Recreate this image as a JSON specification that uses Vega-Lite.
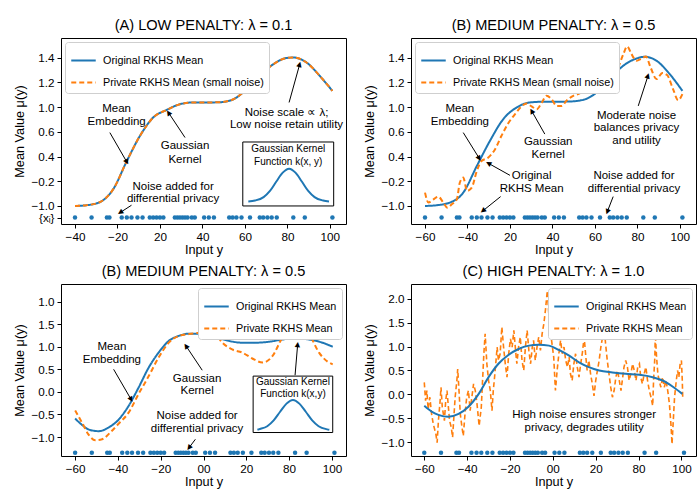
{
"$schema": "https://vega.github.io/schema/vega-lite/v6.json",
"padding": {"left": 13, "top": 17, "right": 2, "bottom": 2},
"background": "white",
"bounds": "flush",
"columns": 2,
"spacing": {"row": 60, "column": 65},
"resolve": {"scale": {"color": "independent", "strokeDash": "independent"}, "legend": {"color": "independent", "strokeDash": "independent"}},
"config": {
 "font": "Liberation Sans",
 "view": {"stroke": "black", "strokeWidth": 1},
 "axis": {"grid": false, "domain": false, "tickColor": "black", "tickSize": 4, "labelColor": "black", "labelFontSize": 11.7, "labelFont": "Liberation Sans", "titleFont": "Liberation Sans", "titleFontSize": 12.7, "titleFontWeight": "normal", "titleColor": "black", "labelPadding": 3, "labelFlush": false, "labelOverlap": false},
 "axisX": {"titlePadding": 1},
 "axisY": {"titlePadding": 4},
 "title": {"fontSize": 14.6, "fontWeight": "normal", "offset": 5, "color": "black", "font": "Liberation Sans"},
 "legend": {"fillColor": "white", "strokeColor": "#cfcfcf", "cornerRadius": 3, "padding": 5, "symbolType": "stroke", "symbolSize": 600, "symbolStrokeWidth": 2, "labelFontSize": 10.8, "labelFont": "Liberation Sans", "labelColor": "black", "rowPadding": 3, "labelOffset": 6, "offset": 4, "labelLimit": 300},
 "text": {"font": "Liberation Sans", "fontSize": 11.5, "color": "black"}
},
"datasets": {
 "dots_top": [{"x":0,"y":-0.47},{"x":0.39,"y":-0.47},{"x":0.75,"y":-0.47},{"x":0.81,"y":-0.47},{"x":1.10,"y":-0.47},{"x":1.22,"y":-0.47},{"x":1.33,"y":-0.47},{"x":1.47,"y":-0.47},{"x":1.59,"y":-0.47},{"x":1.76,"y":-0.47},{"x":1.84,"y":-0.47},{"x":1.92,"y":-0.47},{"x":2.0,"y":-0.47},{"x":2.08,"y":-0.47},{"x":2.35,"y":-0.47},{"x":2.41,"y":-0.47},{"x":2.47,"y":-0.47},{"x":2.53,"y":-0.47},{"x":2.59,"y":-0.47},{"x":2.65,"y":-0.47},{"x":2.75,"y":-0.47},{"x":2.82,"y":-0.47},{"x":3.04,"y":-0.47},{"x":3.15,"y":-0.47},{"x":3.27,"y":-0.47},{"x":3.63,"y":-0.47},{"x":3.71,"y":-0.47},{"x":3.8,"y":-0.47},{"x":3.92,"y":-0.47},{"x":4.12,"y":-0.47},{"x":4.35,"y":-0.47},{"x":4.43,"y":-0.47},{"x":4.53,"y":-0.47},{"x":4.63,"y":-0.47},{"x":4.75,"y":-0.47},{"x":5.14,"y":-0.47},{"x":5.41,"y":-0.47},{"x":6.06,"y":-0.47}],
 "dots_L": [{"x":0,"y":-1.35},{"x":0.39,"y":-1.35},{"x":0.75,"y":-1.35},{"x":0.81,"y":-1.35},{"x":1.10,"y":-1.35},{"x":1.22,"y":-1.35},{"x":1.33,"y":-1.35},{"x":1.47,"y":-1.35},{"x":1.59,"y":-1.35},{"x":1.76,"y":-1.35},{"x":1.84,"y":-1.35},{"x":1.92,"y":-1.35},{"x":2.0,"y":-1.35},{"x":2.08,"y":-1.35},{"x":2.35,"y":-1.35},{"x":2.41,"y":-1.35},{"x":2.47,"y":-1.35},{"x":2.53,"y":-1.35},{"x":2.59,"y":-1.35},{"x":2.65,"y":-1.35},{"x":2.75,"y":-1.35},{"x":2.82,"y":-1.35},{"x":3.04,"y":-1.35},{"x":3.15,"y":-1.35},{"x":3.27,"y":-1.35},{"x":3.63,"y":-1.35},{"x":3.71,"y":-1.35},{"x":3.8,"y":-1.35},{"x":3.92,"y":-1.35},{"x":4.12,"y":-1.35},{"x":4.35,"y":-1.35},{"x":4.43,"y":-1.35},{"x":4.53,"y":-1.35},{"x":4.63,"y":-1.35},{"x":4.75,"y":-1.35},{"x":5.14,"y":-1.35},{"x":5.41,"y":-1.35},{"x":6.06,"y":-1.35}],
 "dots_C": [{"x":0,"y":-1.22},{"x":0.39,"y":-1.22},{"x":0.75,"y":-1.22},{"x":0.81,"y":-1.22},{"x":1.10,"y":-1.22},{"x":1.22,"y":-1.22},{"x":1.33,"y":-1.22},{"x":1.47,"y":-1.22},{"x":1.59,"y":-1.22},{"x":1.76,"y":-1.22},{"x":1.84,"y":-1.22},{"x":1.92,"y":-1.22},{"x":2.0,"y":-1.22},{"x":2.08,"y":-1.22},{"x":2.35,"y":-1.22},{"x":2.41,"y":-1.22},{"x":2.47,"y":-1.22},{"x":2.53,"y":-1.22},{"x":2.59,"y":-1.22},{"x":2.65,"y":-1.22},{"x":2.75,"y":-1.22},{"x":2.82,"y":-1.22},{"x":3.04,"y":-1.22},{"x":3.15,"y":-1.22},{"x":3.27,"y":-1.22},{"x":3.63,"y":-1.22},{"x":3.71,"y":-1.22},{"x":3.8,"y":-1.22},{"x":3.92,"y":-1.22},{"x":4.12,"y":-1.22},{"x":4.35,"y":-1.22},{"x":4.43,"y":-1.22},{"x":4.53,"y":-1.22},{"x":4.63,"y":-1.22},{"x":4.75,"y":-1.22},{"x":5.14,"y":-1.22},{"x":5.41,"y":-1.22},{"x":6.06,"y":-1.22}],
 "A_curves": [
  {"series":"Original RKHS Mean","x":0,"y":0},{"series":"Original RKHS Mean","x":0.27,"y":0.03},{"series":"Original RKHS Mean","x":0.59,"y":0.16},{"series":"Original RKHS Mean","x":0.9,"y":0.68},{"series":"Original RKHS Mean","x":1.22,"y":1.82},{"series":"Original RKHS Mean","x":1.53,"y":2.84},{"series":"Original RKHS Mean","x":1.84,"y":3.58},{"series":"Original RKHS Mean","x":2.16,"y":3.89},{"series":"Original RKHS Mean","x":2.47,"y":4.12},{"series":"Original RKHS Mean","x":2.78,"y":4.19},{"series":"Original RKHS Mean","x":3.1,"y":4.19},{"series":"Original RKHS Mean","x":3.41,"y":4.2},{"series":"Original RKHS Mean","x":3.73,"y":4.32},{"series":"Original RKHS Mean","x":4.04,"y":4.73},{"series":"Original RKHS Mean","x":4.35,"y":5.27},{"series":"Original RKHS Mean","x":4.67,"y":5.74},{"series":"Original RKHS Mean","x":4.98,"y":5.99},{"series":"Original RKHS Mean","x":5.14,"y":6.01},{"series":"Original RKHS Mean","x":5.45,"y":5.81},{"series":"Original RKHS Mean","x":5.76,"y":5.27},{"series":"Original RKHS Mean","x":6.06,"y":4.66},
  {"series":"Private RKHS Mean (small noise)","x":0,"y":0},{"series":"Private RKHS Mean (small noise)","x":0.27,"y":0.03},{"series":"Private RKHS Mean (small noise)","x":0.59,"y":0.16},{"series":"Private RKHS Mean (small noise)","x":0.9,"y":0.68},{"series":"Private RKHS Mean (small noise)","x":1.22,"y":1.82},{"series":"Private RKHS Mean (small noise)","x":1.53,"y":2.84},{"series":"Private RKHS Mean (small noise)","x":1.84,"y":3.58},{"series":"Private RKHS Mean (small noise)","x":2.16,"y":3.89},{"series":"Private RKHS Mean (small noise)","x":2.47,"y":4.12},{"series":"Private RKHS Mean (small noise)","x":2.78,"y":4.19},{"series":"Private RKHS Mean (small noise)","x":3.1,"y":4.19},{"series":"Private RKHS Mean (small noise)","x":3.41,"y":4.2},{"series":"Private RKHS Mean (small noise)","x":3.73,"y":4.32},{"series":"Private RKHS Mean (small noise)","x":4.04,"y":4.73},{"series":"Private RKHS Mean (small noise)","x":4.35,"y":5.27},{"series":"Private RKHS Mean (small noise)","x":4.67,"y":5.74},{"series":"Private RKHS Mean (small noise)","x":4.98,"y":5.99},{"series":"Private RKHS Mean (small noise)","x":5.14,"y":6.01},{"series":"Private RKHS Mean (small noise)","x":5.45,"y":5.81},{"series":"Private RKHS Mean (small noise)","x":5.76,"y":5.27},{"series":"Private RKHS Mean (small noise)","x":6.06,"y":4.66}
 ],
 "A_inset": [{"x":3.95,"x2":6.09,"y":0,"y2":2.59}],
 "A_bell": [{"x":4.08,"y":0.18},{"x":4.24,"y":0.22},{"x":4.44,"y":0.36},{"x":4.59,"y":0.61},{"x":4.74,"y":0.99},{"x":4.89,"y":1.35},{"x":5.04,"y":1.51},{"x":5.19,"y":1.35},{"x":5.34,"y":0.99},{"x":5.49,"y":0.61},{"x":5.64,"y":0.36},{"x":5.84,"y":0.22},{"x":5.98,"y":0.18}],
 "A_arrows": [
  {"x0":0.82,"y0":2.97,"x":1.22,"y":1.78,"angle":150},
  {"x0":2.59,"y0":2.77,"x":2.2,"y":3.78,"angle":-34},
  {"x0":5.04,"y0":4.19,"x":5.29,"y":5.74,"angle":15},
  {"x0":1.33,"y0":0.03,"x":1.06,"y":-0.27,"angle":-123}
 ],
 "A_text": [
  {"x":0.98,"y":3.92,"text":"Mean"},{"x":0.98,"y":3.38,"text":"Embedding"},
  {"x":2.59,"y":2.43,"text":"Gaussian"},{"x":2.59,"y":1.86,"text":"Kernel"},
  {"x":4.98,"y":3.78,"text":"Noise scale ∝ λ;"},{"x":4.98,"y":3.27,"text":"Low noise retain utility"},
  {"x":2.31,"y":0.76,"text":"Noise added for"},{"x":2.31,"y":0.27,"text":"differential privacy"}
 ],
 "A_inset_text": [{"x":5.02,"y":2.3,"text":"Gaussian Kernel"},{"x":5.02,"y":1.76,"text":"Function k(x, y)"}],
 "B_curves": [
  {"series":"Original RKHS Mean","x":0,"y":0},{"series":"Original RKHS Mean","x":0.27,"y":0.03},{"series":"Original RKHS Mean","x":0.59,"y":0.14},{"series":"Original RKHS Mean","x":0.9,"y":0.54},{"series":"Original RKHS Mean","x":1.22,"y":1.62},{"series":"Original RKHS Mean","x":1.53,"y":2.64},{"series":"Original RKHS Mean","x":1.84,"y":3.51},{"series":"Original RKHS Mean","x":2.16,"y":3.99},{"series":"Original RKHS Mean","x":2.47,"y":4.19},{"series":"Original RKHS Mean","x":2.78,"y":4.22},{"series":"Original RKHS Mean","x":3.1,"y":4.22},{"series":"Original RKHS Mean","x":3.41,"y":4.23},{"series":"Original RKHS Mean","x":3.73,"y":4.3},{"series":"Original RKHS Mean","x":4.04,"y":4.59},{"series":"Original RKHS Mean","x":4.35,"y":5.14},{"series":"Original RKHS Mean","x":4.67,"y":5.68},{"series":"Original RKHS Mean","x":4.98,"y":5.97},{"series":"Original RKHS Mean","x":5.18,"y":6.04},{"series":"Original RKHS Mean","x":5.45,"y":5.88},{"series":"Original RKHS Mean","x":5.76,"y":5.34},{"series":"Original RKHS Mean","x":6.06,"y":4.66},
  {"series":"Private RKHS Mean (small noise)","x":0,"y":0.54},{"series":"Private RKHS Mean (small noise)","x":0.08,"y":0.14},{"series":"Private RKHS Mean (small noise)","x":0.2,"y":0.27},{"series":"Private RKHS Mean (small noise)","x":0.31,"y":0.38},{"series":"Private RKHS Mean (small noise)","x":0.43,"y":0.14},{"series":"Private RKHS Mean (small noise)","x":0.53,"y":-0.07},{"series":"Private RKHS Mean (small noise)","x":0.63,"y":0.07},{"series":"Private RKHS Mean (small noise)","x":0.75,"y":0.27},{"series":"Private RKHS Mean (small noise)","x":0.82,"y":0.95},{"series":"Private RKHS Mean (small noise)","x":0.9,"y":1.15},{"series":"Private RKHS Mean (small noise)","x":0.99,"y":0.61},{"series":"Private RKHS Mean (small noise)","x":1.1,"y":0.74},{"series":"Private RKHS Mean (small noise)","x":1.22,"y":1.42},{"series":"Private RKHS Mean (small noise)","x":1.33,"y":1.82},{"series":"Private RKHS Mean (small noise)","x":1.49,"y":1.96},{"series":"Private RKHS Mean (small noise)","x":1.65,"y":2.3},{"series":"Private RKHS Mean (small noise)","x":1.8,"y":2.84},{"series":"Private RKHS Mean (small noise)","x":1.96,"y":3.35},{"series":"Private RKHS Mean (small noise)","x":2.12,"y":3.72},{"series":"Private RKHS Mean (small noise)","x":2.27,"y":4.03},{"series":"Private RKHS Mean (small noise)","x":2.39,"y":4.15},{"series":"Private RKHS Mean (small noise)","x":2.51,"y":4.03},{"series":"Private RKHS Mean (small noise)","x":2.63,"y":3.92},{"series":"Private RKHS Mean (small noise)","x":2.75,"y":4.19},{"series":"Private RKHS Mean (small noise)","x":2.86,"y":4.46},{"series":"Private RKHS Mean (small noise)","x":2.98,"y":4.32},{"series":"Private RKHS Mean (small noise)","x":3.1,"y":4.05},{"series":"Private RKHS Mean (small noise)","x":3.22,"y":4.05},{"series":"Private RKHS Mean (small noise)","x":3.33,"y":4.26},{"series":"Private RKHS Mean (small noise)","x":3.49,"y":4.46},{"series":"Private RKHS Mean (small noise)","x":3.65,"y":4.57},{"series":"Private RKHS Mean (small noise)","x":3.8,"y":4.8},{"series":"Private RKHS Mean (small noise)","x":3.95,"y":5.07},{"series":"Private RKHS Mean (small noise)","x":4.08,"y":5.0},{"series":"Private RKHS Mean (small noise)","x":4.2,"y":4.93},{"series":"Private RKHS Mean (small noise)","x":4.31,"y":5.0},{"series":"Private RKHS Mean (small noise)","x":4.43,"y":5.2},{"series":"Private RKHS Mean (small noise)","x":4.55,"y":5.61},{"series":"Private RKHS Mean (small noise)","x":4.67,"y":6.15},{"series":"Private RKHS Mean (small noise)","x":4.76,"y":6.46},{"series":"Private RKHS Mean (small noise)","x":4.86,"y":6.15},{"series":"Private RKHS Mean (small noise)","x":4.98,"y":5.88},{"series":"Private RKHS Mean (small noise)","x":5.1,"y":5.97},{"series":"Private RKHS Mean (small noise)","x":5.2,"y":6.05},{"series":"Private RKHS Mean (small noise)","x":5.31,"y":5.61},{"series":"Private RKHS Mean (small noise)","x":5.45,"y":5.14},{"series":"Private RKHS Mean (small noise)","x":5.59,"y":5.38},{"series":"Private RKHS Mean (small noise)","x":5.7,"y":5.3},{"series":"Private RKHS Mean (small noise)","x":5.84,"y":4.73},{"series":"Private RKHS Mean (small noise)","x":5.96,"y":4.28},{"series":"Private RKHS Mean (small noise)","x":6.06,"y":4.53}
 ],
 "B_arrows": [
  {"x0":0.9,"y0":2.97,"x":1.28,"y":1.92,"angle":148},
  {"x0":2.0,"y0":1.24,"x":1.49,"y":1.73,"angle":-61},
  {"x0":1.78,"y0":0.38,"x":1.36,"y":-0.2,"angle":-129},
  {"x0":2.82,"y0":2.91,"x":2.51,"y":3.85,"angle":-30},
  {"x0":5.02,"y0":4.05,"x":5.25,"y":5.27,"angle":18},
  {"x0":4.43,"y0":0.38,"x":4.29,"y":-0.24,"angle":-159}
 ],
 "B_text": [
  {"x":0.82,"y":3.92,"text":"Mean"},{"x":0.82,"y":3.41,"text":"Embedding"},
  {"x":2.51,"y":1.22,"text":"Original"},{"x":2.51,"y":0.7,"text":"RKHS Mean"},
  {"x":2.9,"y":2.57,"text":"Gaussian"},{"x":2.9,"y":2.07,"text":"Kernel"},
  {"x":4.98,"y":3.65,"text":"Moderate noise"},{"x":4.98,"y":3.14,"text":"balances privacy"},{"x":4.98,"y":2.62,"text":"and utility"},
  {"x":4.92,"y":1.22,"text":"Noise added for"},{"x":4.92,"y":0.7,"text":"differential privacy"}
 ],
 "L_curves": [
  {"series":"Original RKHS Mean","x":0,"y":-0.59},{"series":"Original RKHS Mean","x":0.16,"y":-0.73},{"series":"Original RKHS Mean","x":0.31,"y":-0.83},{"series":"Original RKHS Mean","x":0.55,"y":-0.87},{"series":"Original RKHS Mean","x":0.78,"y":-0.79},{"series":"Original RKHS Mean","x":1.02,"y":-0.61},{"series":"Original RKHS Mean","x":1.25,"y":-0.31},{"series":"Original RKHS Mean","x":1.48,"y":0.09},{"series":"Original RKHS Mean","x":1.72,"y":0.54},{"series":"Original RKHS Mean","x":1.95,"y":0.87},{"series":"Original RKHS Mean","x":2.19,"y":1.13},{"series":"Original RKHS Mean","x":2.42,"y":1.24},{"series":"Original RKHS Mean","x":2.66,"y":1.29},{"series":"Original RKHS Mean","x":2.89,"y":1.29},{"series":"Original RKHS Mean","x":3.13,"y":1.24},{"series":"Original RKHS Mean","x":3.36,"y":1.19},{"series":"Original RKHS Mean","x":3.59,"y":1.13},{"series":"Original RKHS Mean","x":3.91,"y":1.09},{"series":"Original RKHS Mean","x":4.22,"y":1.09},{"series":"Original RKHS Mean","x":4.53,"y":1.11},{"series":"Original RKHS Mean","x":4.84,"y":1.16},{"series":"Original RKHS Mean","x":5.16,"y":1.19},{"series":"Original RKHS Mean","x":5.47,"y":1.16},{"series":"Original RKHS Mean","x":5.78,"y":1.09},{"series":"Original RKHS Mean","x":6.02,"y":1.0},
  {"series":"Private RKHS Mean","x":0,"y":-0.41},{"series":"Private RKHS Mean","x":0.16,"y":-0.68},{"series":"Private RKHS Mean","x":0.31,"y":-0.94},{"series":"Private RKHS Mean","x":0.47,"y":-1.07},{"series":"Private RKHS Mean","x":0.63,"y":-1.05},{"series":"Private RKHS Mean","x":0.82,"y":-0.9},{"series":"Private RKHS Mean","x":1.02,"y":-0.7},{"series":"Private RKHS Mean","x":1.25,"y":-0.46},{"series":"Private RKHS Mean","x":1.48,"y":-0.05},{"series":"Private RKHS Mean","x":1.72,"y":0.35},{"series":"Private RKHS Mean","x":1.95,"y":0.76},{"series":"Private RKHS Mean","x":2.19,"y":1.09},{"series":"Private RKHS Mean","x":2.42,"y":1.24},{"series":"Private RKHS Mean","x":2.66,"y":1.28},{"series":"Private RKHS Mean","x":2.89,"y":1.31},{"series":"Private RKHS Mean","x":3.13,"y":1.35},{"series":"Private RKHS Mean","x":3.28,"y":1.28},{"series":"Private RKHS Mean","x":3.44,"y":1.09},{"series":"Private RKHS Mean","x":3.67,"y":0.94},{"series":"Private RKHS Mean","x":3.91,"y":0.87},{"series":"Private RKHS Mean","x":4.14,"y":0.74},{"series":"Private RKHS Mean","x":4.38,"y":0.65},{"series":"Private RKHS Mean","x":4.61,"y":0.79},{"series":"Private RKHS Mean","x":4.84,"y":1.2},{"series":"Private RKHS Mean","x":5.08,"y":1.48},{"series":"Private RKHS Mean","x":5.2,"y":1.52},{"series":"Private RKHS Mean","x":5.3,"y":1.47},{"series":"Private RKHS Mean","x":5.47,"y":1.28},{"series":"Private RKHS Mean","x":5.7,"y":0.87},{"series":"Private RKHS Mean","x":5.9,"y":0.67},{"series":"Private RKHS Mean","x":6.02,"y":0.61}
 ],
 "L_inset": [{"x":4.16,"x2":6.02,"y":-0.9,"y2":0.35}],
 "L_bell": [{"x":4.26,"y":-0.84},{"x":4.29,"y":-0.83},{"x":4.49,"y":-0.76},{"x":4.64,"y":-0.63},{"x":4.79,"y":-0.44},{"x":4.94,"y":-0.26},{"x":5.09,"y":-0.18},{"x":5.24,"y":-0.26},{"x":5.39,"y":-0.44},{"x":5.54,"y":-0.63},{"x":5.69,"y":-0.76},{"x":5.89,"y":-0.83},{"x":5.94,"y":-0.84}],
 "L_arrows": [
  {"x0":0.9,"y0":0.5,"x":1.31,"y":-0.17,"angle":150},
  {"x0":2.97,"y0":0.48,"x":2.59,"y":1.02,"angle":-34},
  {"x0":2.81,"y0":-1.05,"x":2.66,"y":-1.24,"angle":-143},
  {"x0":5.14,"y0":0.37,"x":5.2,"y":1.05,"angle":5}
 ],
 "L_text": [
  {"x":0.86,"y":0.99,"text":"Mean"},{"x":0.86,"y":0.7,"text":"Embedding"},
  {"x":2.85,"y":0.28,"text":"Gaussian"},{"x":2.85,"y":0.02,"text":"Kernel"},
  {"x":2.85,"y":-0.53,"text":"Noise added for"},{"x":2.85,"y":-0.82,"text":"differential privacy"}
 ],
 "L_inset_text": [{"x":5.09,"y":0.22,"text":"Gaussian Kernel"},{"x":5.09,"y":-0.04,"text":"Function k(x,y)"}],
 "C_orig": [{"x":0,"y":-0.24},{"x":0.17,"y":-0.36},{"x":0.33,"y":-0.43},{"x":0.56,"y":-0.47},{"x":0.8,"y":-0.41},{"x":1.03,"y":-0.26},{"x":1.27,"y":0.01},{"x":1.5,"y":0.36},{"x":1.73,"y":0.64},{"x":1.97,"y":0.83},{"x":2.2,"y":0.95},{"x":2.44,"y":1.02},{"x":2.67,"y":1.04},{"x":2.91,"y":1.02},{"x":3.14,"y":0.93},{"x":3.38,"y":0.81},{"x":3.61,"y":0.67},{"x":3.84,"y":0.57},{"x":4.08,"y":0.5},{"x":4.39,"y":0.46},{"x":4.7,"y":0.43},{"x":5.02,"y":0.41},{"x":5.33,"y":0.36},{"x":5.56,"y":0.29},{"x":5.8,"y":0.16},{"x":6.02,"y":0.01}],
 "C_priv": [{"x":0,"y":0.25},{"x":0.03,"y":-0.13},{"x":0.06,"y":0.08},{"x":0.09,"y":-0.31},{"x":0.13,"y":-0.06},{"x":0.17,"y":-0.41},{"x":0.21,"y":-0.62},{"x":0.27,"y":-0.83},{"x":0.3,"y":-1.01},{"x":0.33,"y":-0.55},{"x":0.37,"y":-0.13},{"x":0.39,"y":0.15},{"x":0.42,"y":-0.27},{"x":0.47,"y":-0.55},{"x":0.5,"y":-0.13},{"x":0.53,"y":0.08},{"x":0.56,"y":-0.24},{"x":0.59,"y":-0.55},{"x":0.63,"y":-0.69},{"x":0.66,"y":-0.9},{"x":0.69,"y":-0.48},{"x":0.72,"y":-0.06},{"x":0.76,"y":0.29},{"x":0.78,"y":0.53},{"x":0.81,"y":0.08},{"x":0.84,"y":-0.41},{"x":0.88,"y":-0.69},{"x":0.91,"y":-0.87},{"x":0.95,"y":-0.41},{"x":0.99,"y":-0.06},{"x":1.03,"y":0.08},{"x":1.07,"y":-0.34},{"x":1.11,"y":-0.06},{"x":1.15,"y":0.22},{"x":1.19,"y":0.08},{"x":1.23,"y":-0.2},{"x":1.28,"y":-0.66},{"x":1.33,"y":-0.27},{"x":1.36,"y":0.29},{"x":1.39,"y":0.85},{"x":1.42,"y":1.27},{"x":1.46,"y":0.64},{"x":1.5,"y":0.29},{"x":1.54,"y":0.08},{"x":1.58,"y":-0.34},{"x":1.61,"y":0.08},{"x":1.64,"y":0.36},{"x":1.67,"y":0.67},{"x":1.7,"y":0.99},{"x":1.73,"y":0.71},{"x":1.77,"y":0.85},{"x":1.81,"y":1.41},{"x":1.85,"y":0.99},{"x":1.89,"y":0.64},{"x":1.93,"y":0.36},{"x":1.97,"y":0.85},{"x":2.01,"y":1.16},{"x":2.05,"y":0.99},{"x":2.09,"y":1.34},{"x":2.13,"y":0.92},{"x":2.16,"y":0.64},{"x":2.2,"y":0.99},{"x":2.24,"y":1.2},{"x":2.28,"y":0.71},{"x":2.32,"y":0.5},{"x":2.36,"y":0.99},{"x":2.4,"y":1.34},{"x":2.44,"y":0.92},{"x":2.48,"y":0.64},{"x":2.52,"y":0.99},{"x":2.55,"y":1.13},{"x":2.59,"y":0.71},{"x":2.63,"y":0.99},{"x":2.67,"y":1.2},{"x":2.71,"y":0.92},{"x":2.75,"y":1.27},{"x":2.79,"y":1.48},{"x":2.83,"y":1.79},{"x":2.87,"y":2.17},{"x":2.91,"y":1.62},{"x":2.95,"y":1.27},{"x":2.98,"y":1.06},{"x":3.02,"y":0.78},{"x":3.06,"y":0.08},{"x":3.1,"y":0.5},{"x":3.14,"y":0.85},{"x":3.18,"y":1.13},{"x":3.22,"y":0.85},{"x":3.26,"y":0.99},{"x":3.3,"y":0.71},{"x":3.34,"y":0.57},{"x":3.38,"y":0.78},{"x":3.41,"y":0.43},{"x":3.45,"y":0.29},{"x":3.49,"y":0.64},{"x":3.53,"y":0.85},{"x":3.57,"y":0.57},{"x":3.61,"y":0.36},{"x":3.65,"y":0.64},{"x":3.69,"y":0.88},{"x":3.73,"y":1.2},{"x":3.77,"y":0.78},{"x":3.8,"y":0.5},{"x":3.84,"y":0.71},{"x":3.88,"y":0.43},{"x":3.92,"y":0.22},{"x":3.96,"y":-0.03},{"x":4.0,"y":0.29},{"x":4.04,"y":0.5},{"x":4.08,"y":0.71},{"x":4.12,"y":0.99},{"x":4.16,"y":1.2},{"x":4.2,"y":1.37},{"x":4.23,"y":1.06},{"x":4.27,"y":0.71},{"x":4.31,"y":0.43},{"x":4.35,"y":0.15},{"x":4.39,"y":-0.06},{"x":4.43,"y":0.08},{"x":4.47,"y":0.36},{"x":4.51,"y":0.5},{"x":4.55,"y":0.29},{"x":4.59,"y":0.08},{"x":4.63,"y":0.36},{"x":4.66,"y":0.57},{"x":4.7,"y":0.71},{"x":4.74,"y":0.57},{"x":4.78,"y":0.29},{"x":4.82,"y":0.43},{"x":4.86,"y":0.64},{"x":4.9,"y":0.5},{"x":4.94,"y":0.29},{"x":4.98,"y":0.57},{"x":5.02,"y":0.64},{"x":5.05,"y":0.36},{"x":5.09,"y":0.22},{"x":5.13,"y":0.43},{"x":5.17,"y":0.57},{"x":5.21,"y":0.29},{"x":5.25,"y":0.08},{"x":5.29,"y":-0.06},{"x":5.33,"y":-0.24},{"x":5.35,"y":0.29},{"x":5.38,"y":0.78},{"x":5.39,"y":1.27},{"x":5.42,"y":0.78},{"x":5.45,"y":0.43},{"x":5.48,"y":0.29},{"x":5.52,"y":0.15},{"x":5.56,"y":0.36},{"x":5.6,"y":0.15},{"x":5.64,"y":0.29},{"x":5.68,"y":0.08},{"x":5.72,"y":-0.2},{"x":5.76,"y":-0.69},{"x":5.78,"y":-1.04},{"x":5.81,"y":-0.55},{"x":5.84,"y":-0.06},{"x":5.88,"y":0.29},{"x":5.91,"y":0.5},{"x":5.94,"y":0.36},{"x":5.97,"y":0.64},{"x":6.0,"y":0.71},{"x":6.02,"y":0.29},{"x":6.03,"y":-0.06}],
 "C_text": [{"x":3.73,"y":-0.44,"text":"High noise ensures stronger"},{"x":3.73,"y":-0.71,"text":"privacy, degrades utility"}]
},
"concat": [
 {
  "width": 285, "height": 186,
  "title": "(A) LOW PENALTY: λ = 0.1",
  "encoding": {
   "x": {"field": "x", "type": "quantitative", "scale": {"domain": [-0.33, 6.38], "nice": false, "zero": false}, "axis": {"title": "Input y", "values": [0,1,2,3,4,5,6], "labelExpr": "['−40','−20','20','40','60','80','100'][round(datum.value)]"}},
   "y": {"field": "y", "type": "quantitative", "scale": {"domain": [-0.73, 6.8], "nice": false, "zero": false}, "axis": {"title": "Mean Value μ(y)", "values": [-0.47,0,1,2,3,4,5,6], "labelExpr": "datum.value < -0.2 ? '{xᵢ}' : ['−1.0','−0.2','0.4','0.6','1.0','1.2','1.4'][round(datum.value)]"}}
  },
  "layer": [
   {"data": {"name": "A_curves"}, "mark": {"type": "line", "interpolate": "monotone", "strokeWidth": 2},
    "encoding": {"color": {"field": "series", "type": "nominal", "scale": {"domain": ["Original RKHS Mean", "Private RKHS Mean (small noise)"], "range": ["#1f77b4", "#ff7f0e"]}, "legend": {"title": null, "orient": "top-left"}},
     "strokeDash": {"field": "series", "type": "nominal", "scale": {"domain": ["Original RKHS Mean", "Private RKHS Mean (small noise)"], "range": [[1,0],[5,3]]}, "legend": {"title": null, "orient": "top-left"}}}},
   {"data": {"name": "dots_top"}, "mark": {"type": "circle", "size": 20, "color": "#1f77b4", "opacity": 1}},
   {"data": {"name": "A_inset"}, "mark": {"type": "rect", "fill": "white", "stroke": "black", "strokeWidth": 1}, "encoding": {"x2": {"field": "x2"}, "y2": {"field": "y2"}}},
   {"data": {"name": "A_bell"}, "mark": {"type": "line", "interpolate": "monotone", "color": "#1f77b4", "strokeWidth": 2}},
   {"data": {"name": "A_arrows"}, "mark": {"type": "rule", "color": "black", "strokeWidth": 1}, "encoding": {"x2": {"field": "x0"}, "y2": {"field": "y0"}}},
   {"data": {"name": "A_arrows"}, "mark": {"type": "text", "text": "▲", "fontSize": 7, "font": "DejaVu Sans"}, "encoding": {"angle": {"field": "angle", "type": "quantitative", "scale": null}}},
   {"data": {"name": "A_text"}, "mark": {"type": "text"}, "encoding": {"text": {"field": "text"}}},
   {"data": {"name": "A_inset_text"}, "mark": {"type": "text", "fontSize": 10}, "encoding": {"text": {"field": "text"}}}
  ]
 },
 {
  "width": 285, "height": 186,
  "title": "(B) MEDIUM PENALTY: λ = 0.5",
  "encoding": {
   "x": {"field": "x", "type": "quantitative", "scale": {"domain": [-0.33, 6.38], "nice": false, "zero": false}, "axis": {"title": "Input y", "values": [0,1,2,3,4,5,6], "labelExpr": "['−60','−40','20','40','60','80','100'][round(datum.value)]"}},
   "y": {"field": "y", "type": "quantitative", "scale": {"domain": [-0.73, 6.8], "nice": false, "zero": false}, "axis": {"title": "Mean Value μ(y)", "values": [0,1,2,3,4,5,6], "labelExpr": "['−1.0','−0.2','0.4','0.6','1.0','1.2','1.4'][round(datum.value)]"}}
  },
  "layer": [
   {"data": {"name": "B_curves"}, "mark": {"type": "line", "interpolate": "monotone", "strokeWidth": 2},
    "encoding": {"color": {"field": "series", "type": "nominal", "scale": {"domain": ["Original RKHS Mean", "Private RKHS Mean (small noise)"], "range": ["#1f77b4", "#ff7f0e"]}, "legend": {"title": null, "orient": "top-left"}},
     "strokeDash": {"field": "series", "type": "nominal", "scale": {"domain": ["Original RKHS Mean", "Private RKHS Mean (small noise)"], "range": [[1,0],[5,3]]}, "legend": {"title": null, "orient": "top-left"}}}},
   {"data": {"name": "dots_top"}, "mark": {"type": "circle", "size": 20, "color": "#1f77b4", "opacity": 1}},
   {"data": {"name": "B_arrows"}, "mark": {"type": "rule", "color": "black", "strokeWidth": 1}, "encoding": {"x2": {"field": "x0"}, "y2": {"field": "y0"}}},
   {"data": {"name": "B_arrows"}, "mark": {"type": "text", "text": "▲", "fontSize": 7, "font": "DejaVu Sans"}, "encoding": {"angle": {"field": "angle", "type": "quantitative", "scale": null}}},
   {"data": {"name": "B_text"}, "mark": {"type": "text"}, "encoding": {"text": {"field": "text"}}}
  ]
 },
 {
  "width": 285, "height": 172,
  "title": "(B) MEDIUM PENALTY: λ = 0.5",
  "encoding": {
   "x": {"field": "x", "type": "quantitative", "scale": {"domain": [-0.33, 6.33], "nice": false, "zero": false}, "axis": {"title": "Input y", "values": [0,1,2,3,4,5,6], "labelExpr": "['−60','−40','−20','00','20','80','100'][round(datum.value)]"}},
   "y": {"field": "y", "type": "quantitative", "scale": {"domain": [-1.42, 2.39], "nice": false, "zero": false}, "axis": {"title": "Mean Value μ(y)", "values": [-1,-0.5,0,0.5,1,1.5,2], "labelExpr": "datum.value > 1.9 ? '1.0' : format(datum.value, '.1f')"}}
  },
  "layer": [
   {"data": {"name": "L_curves"}, "mark": {"type": "line", "interpolate": "monotone", "strokeWidth": 2},
    "encoding": {"color": {"field": "series", "type": "nominal", "scale": {"domain": ["Original RKHS Mean", "Private RKHS Mean"], "range": ["#1f77b4", "#ff7f0e"]}, "legend": {"title": null, "orient": "top-right"}},
     "strokeDash": {"field": "series", "type": "nominal", "scale": {"domain": ["Original RKHS Mean", "Private RKHS Mean"], "range": [[1,0],[5,3]]}, "legend": {"title": null, "orient": "top-right"}}}},
   {"data": {"name": "dots_L"}, "mark": {"type": "circle", "size": 20, "color": "#1f77b4", "opacity": 1}},
   {"data": {"name": "L_inset"}, "mark": {"type": "rect", "fill": "white", "stroke": "black", "strokeWidth": 1}, "encoding": {"x2": {"field": "x2"}, "y2": {"field": "y2"}}},
   {"data": {"name": "L_bell"}, "mark": {"type": "line", "interpolate": "monotone", "color": "#1f77b4", "strokeWidth": 2}},
   {"data": {"name": "L_arrows"}, "mark": {"type": "rule", "color": "black", "strokeWidth": 1}, "encoding": {"x2": {"field": "x0"}, "y2": {"field": "y0"}}},
   {"data": {"name": "L_arrows"}, "mark": {"type": "text", "text": "▲", "fontSize": 7, "font": "DejaVu Sans"}, "encoding": {"angle": {"field": "angle", "type": "quantitative", "scale": null}}},
   {"data": {"name": "L_text"}, "mark": {"type": "text"}, "encoding": {"text": {"field": "text"}}},
   {"data": {"name": "L_inset_text"}, "mark": {"type": "text", "fontSize": 10}, "encoding": {"text": {"field": "text"}}}
  ]
 },
 {
  "width": 285, "height": 172,
  "title": "(C) HIGH PENALTY: λ = 1.0",
  "encoding": {
   "x": {"field": "x", "type": "quantitative", "scale": {"domain": [-0.31, 6.34], "nice": false, "zero": false}, "axis": {"title": "Input y", "values": [0,1,2,3,4,5,6], "labelExpr": "['−60','−40','−20','00','20','80','100'][round(datum.value)]"}},
   "y": {"field": "y", "type": "quantitative", "scale": {"domain": [-1.29, 2.31], "nice": false, "zero": false}, "axis": {"title": "Mean Value μ(y)", "values": [-1,-0.5,0,0.5,1,1.5,2], "format": ".1f"}}
  },
  "layer": [
   {"data": {"name": "C_priv"}, "mark": {"type": "line", "strokeWidth": 1.6, "color": "#ff7f0e", "strokeDash": [5,3]}},
   {"data": {"name": "C_orig"}, "mark": {"type": "line", "interpolate": "monotone", "strokeWidth": 2, "color": "#1f77b4"}},
   {"data": {"name": "dots_C"}, "mark": {"type": "circle", "size": 20, "color": "#1f77b4", "opacity": 1}},
   {"data": {"values": [{"series": "Original RKHS Mean"}, {"series": "Private RKHS Mean"}]}, "mark": {"type": "line", "opacity": 0},
    "encoding": {"x": {"datum": 0}, "y": {"datum": 0},
     "color": {"field": "series", "type": "nominal", "scale": {"domain": ["Original RKHS Mean", "Private RKHS Mean"], "range": ["#1f77b4", "#ff7f0e"]}, "legend": {"title": null, "orient": "top-right", "symbolOpacity": 1}},
     "strokeDash": {"field": "series", "type": "nominal", "scale": {"domain": ["Original RKHS Mean", "Private RKHS Mean"], "range": [[1,0],[5,3]]}, "legend": {"title": null, "orient": "top-right", "symbolOpacity": 1}}}},
   {"data": {"name": "C_text"}, "mark": {"type": "text"}, "encoding": {"text": {"field": "text"}}}
  ]
 }
]
}
